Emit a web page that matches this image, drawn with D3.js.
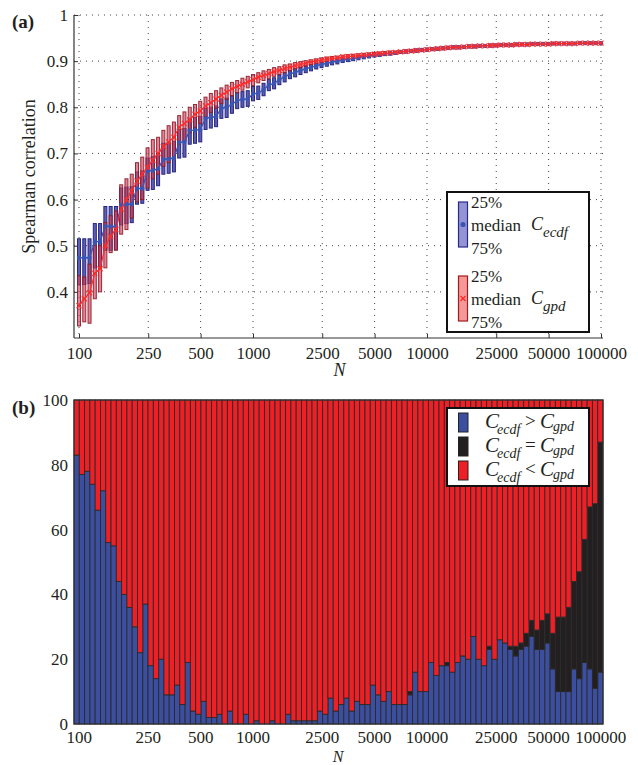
<!DOCTYPE html>
<html>
<head>
<meta charset="utf-8">
<script src="https://cdn.jsdelivr.net/npm/d3@7"></script>
<style>
    body { margin: 0; background: #fff; }
    svg text { font-family: "Liberation Serif", "Times New Roman", Times, serif; fill: #231f20; }
</style>
</head>
<body>
<div id="chart"></div>
<script>
// x tick labels (N), shared by both panels
let nTicks = [100, 250, 500, 1000, 2500, 5000, 10000, 25000, 50000, 100000];
let yTicksA = [0.4, 0.5, 0.6, 0.7, 0.8, 0.9, 1];
let yTicksB = [0, 20, 40, 60, 80, 100];

// (a) Spearman correlation quantiles, one entry per sample size (100 sizes, log spaced 100..100000)
let ecdfQ25 = [
    0.416, 0.416, 0.418, 0.452, 0.455, 0.490, 0.490, 0.492, 0.545, 0.548,
    0.550, 0.590, 0.592, 0.620, 0.622, 0.630, 0.655, 0.657, 0.660, 0.690,
    0.692, 0.720, 0.722, 0.725, 0.752, 0.755, 0.758, 0.776, 0.778, 0.787,
    0.797, 0.800, 0.802, 0.814, 0.817, 0.825, 0.836, 0.840, 0.849, 0.855,
    0.862, 0.866, 0.871, 0.875, 0.879, 0.883, 0.886, 0.889, 0.892, 0.894,
    0.897, 0.899, 0.901, 0.903, 0.905, 0.907, 0.909, 0.910, 0.912, 0.913,
    0.915, 0.917, 0.918, 0.919, 0.920, 0.921, 0.922, 0.923, 0.924, 0.925,
    0.926, 0.927, 0.927, 0.928, 0.929, 0.929, 0.930, 0.931, 0.931, 0.932,
    0.932, 0.933, 0.933, 0.934, 0.934, 0.934, 0.935, 0.935, 0.935, 0.935,
    0.936, 0.936, 0.936, 0.936, 0.937, 0.937, 0.937, 0.937, 0.937, 0.937
];
let ecdfMed = [
    0.474, 0.474, 0.474, 0.508, 0.510, 0.542, 0.542, 0.542, 0.588, 0.590,
    0.590, 0.624, 0.624, 0.662, 0.663, 0.667, 0.687, 0.688, 0.690, 0.724,
    0.725, 0.750, 0.750, 0.752, 0.776, 0.778, 0.780, 0.798, 0.800, 0.806,
    0.815, 0.817, 0.818, 0.829, 0.831, 0.838, 0.848, 0.852, 0.860, 0.866,
    0.872, 0.876, 0.880, 0.883, 0.887, 0.890, 0.893, 0.895, 0.898, 0.900,
    0.902, 0.904, 0.906, 0.908, 0.910, 0.911, 0.913, 0.914, 0.916, 0.917,
    0.918, 0.920, 0.921, 0.922, 0.923, 0.924, 0.925, 0.926, 0.927, 0.928,
    0.929, 0.930, 0.930, 0.931, 0.932, 0.932, 0.933, 0.933, 0.934, 0.934,
    0.935, 0.935, 0.935, 0.936, 0.936, 0.936, 0.937, 0.937, 0.937, 0.937,
    0.938, 0.938, 0.938, 0.938, 0.938, 0.939, 0.939, 0.939, 0.939, 0.939
];
let ecdfQ75 = [
    0.515, 0.515, 0.515, 0.548, 0.548, 0.585, 0.585, 0.585, 0.625, 0.627,
    0.628, 0.660, 0.662, 0.690, 0.693, 0.700, 0.722, 0.724, 0.726, 0.752,
    0.754, 0.776, 0.778, 0.780, 0.798, 0.800, 0.803, 0.818, 0.820, 0.825,
    0.832, 0.834, 0.836, 0.845, 0.846, 0.852, 0.860, 0.864, 0.870, 0.875,
    0.880, 0.884, 0.887, 0.890, 0.893, 0.896, 0.899, 0.900, 0.903, 0.905,
    0.907, 0.909, 0.911, 0.912, 0.914, 0.915, 0.917, 0.918, 0.919, 0.920,
    0.921, 0.923, 0.924, 0.925, 0.926, 0.927, 0.928, 0.929, 0.929, 0.930,
    0.931, 0.932, 0.932, 0.933, 0.934, 0.934, 0.935, 0.935, 0.936, 0.936,
    0.937, 0.937, 0.937, 0.938, 0.938, 0.938, 0.939, 0.939, 0.939, 0.939,
    0.940, 0.940, 0.940, 0.940, 0.940, 0.941, 0.941, 0.941, 0.941, 0.941
];
let gpdQ25 = [
    0.326, 0.335, 0.332, 0.385, 0.400, 0.452, 0.485, 0.490, 0.525, 0.535,
    0.560, 0.595, 0.600, 0.625, 0.645, 0.655, 0.672, 0.680, 0.693, 0.720,
    0.727, 0.745, 0.757, 0.765, 0.780, 0.789, 0.798, 0.808, 0.817, 0.825,
    0.831, 0.837, 0.842, 0.847, 0.853, 0.858, 0.862, 0.867, 0.871, 0.875,
    0.879, 0.883, 0.886, 0.889, 0.892, 0.894, 0.897, 0.899, 0.901, 0.903,
    0.905, 0.906, 0.908, 0.909, 0.910, 0.911, 0.912, 0.913, 0.914, 0.915,
    0.916, 0.917, 0.918, 0.919, 0.920, 0.921, 0.922, 0.923, 0.924, 0.925,
    0.926, 0.927, 0.927, 0.928, 0.929, 0.929, 0.930, 0.931, 0.931, 0.932,
    0.932, 0.933, 0.933, 0.934, 0.934, 0.934, 0.935, 0.935, 0.935, 0.935,
    0.936, 0.936, 0.936, 0.936, 0.937, 0.937, 0.937, 0.937, 0.937, 0.937
];
let gpdMed = [
    0.370, 0.385, 0.398, 0.440, 0.450, 0.500, 0.520, 0.535, 0.580, 0.600,
    0.618, 0.640, 0.655, 0.670, 0.685, 0.700, 0.715, 0.725, 0.735, 0.757,
    0.765, 0.773, 0.785, 0.792, 0.803, 0.810, 0.818, 0.826, 0.833, 0.840,
    0.845, 0.850, 0.855, 0.860, 0.865, 0.869, 0.873, 0.877, 0.880, 0.884,
    0.887, 0.890, 0.893, 0.895, 0.898, 0.900, 0.902, 0.904, 0.906, 0.907,
    0.909, 0.910, 0.911, 0.912, 0.913, 0.914, 0.915, 0.916, 0.917, 0.918,
    0.919, 0.920, 0.921, 0.922, 0.923, 0.924, 0.925, 0.926, 0.927, 0.928,
    0.929, 0.930, 0.930, 0.931, 0.932, 0.932, 0.933, 0.933, 0.934, 0.934,
    0.935, 0.935, 0.935, 0.936, 0.936, 0.936, 0.937, 0.937, 0.937, 0.937,
    0.938, 0.938, 0.938, 0.938, 0.938, 0.939, 0.939, 0.939, 0.939, 0.939
];
let gpdQ75 = [
    0.435, 0.432, 0.460, 0.500, 0.500, 0.550, 0.565, 0.575, 0.632, 0.645,
    0.655, 0.680, 0.692, 0.712, 0.730, 0.735, 0.750, 0.760, 0.768, 0.782,
    0.790, 0.800, 0.806, 0.813, 0.822, 0.830, 0.836, 0.842, 0.848, 0.854,
    0.858, 0.863, 0.867, 0.871, 0.875, 0.879, 0.882, 0.886, 0.888, 0.892,
    0.894, 0.897, 0.899, 0.901, 0.903, 0.905, 0.907, 0.909, 0.910, 0.911,
    0.913, 0.914, 0.915, 0.916, 0.917, 0.918, 0.919, 0.920, 0.921, 0.922,
    0.922, 0.923, 0.924, 0.925, 0.926, 0.927, 0.928, 0.929, 0.930, 0.931,
    0.932, 0.933, 0.933, 0.934, 0.935, 0.935, 0.936, 0.936, 0.937, 0.937,
    0.938, 0.938, 0.938, 0.939, 0.939, 0.939, 0.940, 0.940, 0.940, 0.940,
    0.941, 0.941, 0.941, 0.941, 0.941, 0.941, 0.941, 0.941, 0.941, 0.941
];

// (b) share of runs (%) where C_ecdf > C_gpd and C_ecdf = C_gpd; the rest is C_ecdf < C_gpd
let ecdfBetter = [
    83, 77, 78, 74, 66, 72, 56, 55, 44, 40,
    36, 30, 22, 37, 18, 14, 20, 9, 9, 12,
    6, 19, 4, 3, 7, 2, 2, 3, 0, 4,
    0, 0, 3, 0, 1, 0, 0, 1, 0, 0,
    3, 1, 1, 1, 1, 1, 4, 3, 8, 4,
    6, 8, 4, 7, 6, 6, 12, 9, 7, 10,
    6, 6, 6, 9, 16, 10, 10, 19, 15, 18,
    18, 16, 19, 21, 20, 27, 20, 18, 23, 20,
    26, 25, 23, 21, 23, 24, 27, 23, 23, 25,
    17, 10, 10, 10, 17, 14, 19, 17, 11, 16
];
let tieShare = [
    0, 0, 0, 0, 0, 0, 0, 0, 0, 0,
    0, 0, 0, 0, 0, 0, 0, 0, 0, 0,
    0, 0, 0, 0, 0, 0, 0, 0, 0, 0,
    0, 0, 0, 0, 0, 0, 0, 0, 0, 0,
    0, 0, 0, 0, 0, 0, 0, 0, 0, 0,
    0, 0, 0, 0, 0, 0, 0, 0, 0, 0,
    0, 0, 0, 1, 0, 0, 0, 0, 0, 0,
    1, 0, 0, 0, 0, 0, 0, 0, 1, 0,
    0, 0, 1, 3, 2, 4, 5, 6, 9, 9,
    11, 23, 23, 26, 27, 33, 38, 50, 57, 71
];

let blue = '#3b4ea0', black = '#231f20', red = '#ee1f25';
let serif = '"Liberation Serif", "Times New Roman", Times, serif';

let svg = d3.select('#chart').append('svg')
    .attr('width', 638)
    .attr('height', 765)
    .attr('font-family', serif);

let idx = d3.range(ecdfMed.length);

/* ---------- panel (a) ---------- */
let pa = {left: 74, right: 603, top: 15, bottom: 338};
let xA = d3.scaleLinear().domain([0, idx.length - 1]).range([79, 601]);
let xTickA = d3.scaleLog().domain([100, 100000]).range([79, 601]);
let yA = d3.scaleLinear().domain([0.3, 1]).range([pa.bottom, pa.top]);

let ga = svg.append('g');

//点线网格
ga.append('g').selectAll('line').data(nTicks).enter().append('line')
    .attr('x1', d => xTickA(d)).attr('x2', d => xTickA(d))
    .attr('y1', pa.top).attr('y2', pa.bottom)
    .attr('stroke', '#444').attr('stroke-width', 1).attr('stroke-dasharray', '1,5');
ga.append('g').selectAll('line').data(yTicksA).enter().append('line')
    .attr('x1', pa.left).attr('x2', pa.right)
    .attr('y1', d => yA(d)).attr('y2', d => yA(d))
    .attr('stroke', '#444').attr('stroke-width', 1).attr('stroke-dasharray', '1,5');

let axA = ga.append('g')
    .attr('transform', 'translate(0,' + pa.bottom + ')')
    .call(d3.axisBottom(xTickA).tickValues(nTicks).tickFormat(d3.format('d'))
        .tickSizeInner(-4).tickSizeOuter(0).tickPadding(9));
let ayA = ga.append('g')
    .attr('transform', 'translate(' + pa.left + ',0)')
    .call(d3.axisLeft(yA).tickValues(yTicksA).tickFormat(d => d === 1 ? '1' : d.toFixed(1))
        .tickSizeInner(-4).tickSizeOuter(0).tickPadding(6));
[axA, ayA].forEach(g => {
    g.attr('font-family', serif);
    g.select('.domain').remove();
    g.selectAll('text').attr('font-size', 17);
    g.selectAll('.tick line').attr('stroke', '#333');
});
ga.append('line').attr('x1', pa.left).attr('x2', pa.right).attr('y1', pa.bottom).attr('y2', pa.bottom)
    .attr('stroke', '#333').attr('stroke-width', 1.2);
ga.append('line').attr('x1', pa.left).attr('x2', pa.left).attr('y1', pa.top).attr('y2', pa.bottom)
    .attr('stroke', '#333').attr('stroke-width', 1.2);

let boxW = 3;
// 四分位箱体
ga.append('g').selectAll('rect').data(idx).enter().append('rect')
    .attr('x', i => xA(i) - boxW / 2)
    .attr('y', i => yA(ecdfQ75[i]))
    .attr('width', boxW)
    .attr('height', i => Math.max(1, yA(ecdfQ25[i]) - yA(ecdfQ75[i])))
    .attr('fill', '#5e5eb4').attr('stroke', '#25257e').attr('stroke-width', 1);
ga.append('g').selectAll('rect').data(idx).enter().append('rect')
    .attr('x', i => xA(i) - boxW / 2)
    .attr('y', i => yA(gpdQ75[i]))
    .attr('width', boxW)
    .attr('height', i => Math.max(1, yA(gpdQ25[i]) - yA(gpdQ75[i])))
    .attr('fill', '#d04468').attr('fill-opacity', 0.65)
    .attr('stroke', '#8e1a22').attr('stroke-opacity', 0.9).attr('stroke-width', 1);

// 中位数连线
let lineE = d3.line().x(i => xA(i)).y(i => yA(ecdfMed[i]));
let lineG = d3.line().x(i => xA(i)).y(i => yA(gpdMed[i]));
ga.append('path').datum(idx).attr('d', lineE)
    .attr('fill', 'none').attr('stroke', '#3a55b4').attr('stroke-width', 1.4);
ga.append('g').selectAll('circle').data(idx).enter().append('circle')
    .attr('cx', i => xA(i)).attr('cy', i => yA(ecdfMed[i])).attr('r', 2.2)
    .attr('fill', '#3a55b4');
ga.append('path').datum(idx).attr('d', lineG)
    .attr('fill', 'none').attr('stroke', '#ff2a2a').attr('stroke-width', 1.2);
ga.append('g').selectAll('path').data(idx).enter().append('path')
    .attr('d', 'M-2.5,-2.5L2.5,2.5M-2.5,2.5L2.5,-2.5')
    .attr('transform', i => 'translate(' + xA(i) + ',' + yA(gpdMed[i]) + ')')
    .attr('stroke', '#ff2a2a').attr('stroke-width', 1.2);

ga.append('text').attr('x', 12).attr('y', 28).attr('font-size', 19).attr('font-weight', 'bold').text('(a)');
ga.append('text').attr('transform', 'translate(35,' + ((pa.top + pa.bottom) / 2) + ') rotate(-90)')
    .attr('text-anchor', 'middle').attr('font-size', 18).text('Spearman correlation');
ga.append('text').attr('x', (pa.left + pa.right) / 2 + 1).attr('y', 376).attr('text-anchor', 'middle')
    .attr('font-size', 18).attr('font-style', 'italic').text('N');

// 图例 (a)
let la = ga.append('g');
la.append('rect').attr('x', 447).attr('y', 192).attr('width', 142).attr('height', 140)
    .attr('fill', '#fff').attr('stroke', '#111').attr('stroke-width', 2);
[
    {y: 202, fill: '#9494d4', stroke: '#2a2a8a', sub: 'ecdf', mark: 'dot'},
    {y: 276, fill: '#f49898', stroke: '#a31c1c', sub: 'gpd', mark: 'x'}
].forEach(function (d) {
    la.append('rect').attr('x', 458.5).attr('y', d.y).attr('width', 9).attr('height', 45)
        .attr('fill', d.fill).attr('stroke', d.stroke).attr('stroke-width', 1.2);
    if (d.mark === 'dot') {
        la.append('circle').attr('cx', 463).attr('cy', d.y + 22.5).attr('r', 2.6).attr('fill', '#3a55b4');
    } else {
        la.append('path').attr('d', 'M-2.5,-2.5L2.5,2.5M-2.5,2.5L2.5,-2.5')
            .attr('transform', 'translate(463,' + (d.y + 22.5) + ')')
            .attr('stroke', '#ff2a2a').attr('stroke-width', 1.4);
    }
    la.append('text').attr('x', 471).attr('y', d.y + 6).attr('font-size', 17).text('25%');
    la.append('text').attr('x', 471).attr('y', d.y + 29).attr('font-size', 17).text('median');
    la.append('text').attr('x', 471).attr('y', d.y + 52).attr('font-size', 17).text('75%');
    la.append('text').attr('x', 531).attr('y', d.y + 28).attr('font-size', 18).attr('font-style', 'italic').text('C');
    la.append('text').attr('x', 543).attr('y', d.y + 35).attr('font-size', 15).attr('font-style', 'italic').text(d.sub);
});

/* ---------- panel (b) ---------- */
let pb = {left: 74, right: 603, top: 400, bottom: 724};
let rows = idx.map(i => ({
    i: i,
    more: ecdfBetter[i],
    equal: tieShare[i],
    less: 100 - ecdfBetter[i] - tieShare[i]
}));
let stack = d3.stack().keys(['more', 'equal', 'less'])(rows);
let xB = d3.scaleBand().domain(idx).range([pb.left, pb.right]).padding(0);
let bw = xB.bandwidth();
let xTickB = d3.scaleLog().domain([100, 100000]).range([xB(0) + bw / 2 + 2, xB(idx.length - 1) + bw / 2]);
let yB = d3.scaleLinear().domain([0, 100]).range([pb.bottom, pb.top]);
let colorB = {more: blue, equal: black, less: red};

let gb = svg.append('g');
gb.selectAll('g.layer').data(stack).enter().append('g')
    .attr('class', 'layer')
    .attr('fill', d => colorB[d.key])
    .selectAll('rect').data(d => d).enter().append('rect')
    .attr('x', d => xB(d.data.i))
    .attr('y', d => yB(d[1]))
    .attr('width', bw)
    .attr('height', d => yB(d[0]) - yB(d[1]))
    .attr('stroke', '#2a2a2a').attr('stroke-width', 0.9);

gb.append('rect').attr('x', pb.left).attr('y', pb.top)
    .attr('width', pb.right - pb.left).attr('height', pb.bottom - pb.top)
    .attr('fill', 'none').attr('stroke', '#333').attr('stroke-width', 1.2);

let axB = gb.append('g')
    .attr('transform', 'translate(0,' + pb.bottom + ')')
    .call(d3.axisBottom(xTickB).tickValues(nTicks).tickFormat(d3.format('d'))
        .tickSize(0).tickPadding(7));
let ayB = gb.append('g')
    .attr('transform', 'translate(' + pb.left + ',0)')
    .call(d3.axisLeft(yB).tickValues(yTicksB).tickSize(0).tickPadding(6));
[axB, ayB].forEach(g => {
    g.attr('font-family', serif);
    g.select('.domain').remove();
    g.selectAll('text').attr('font-size', 17);
});

gb.append('text').attr('x', 12).attr('y', 414).attr('font-size', 19).attr('font-weight', 'bold').text('(b)');
gb.append('text').attr('x', 338).attr('y', 762).attr('text-anchor', 'middle')
    .attr('font-size', 16).attr('font-style', 'italic').text('N');

// 图例 (b)
let lb = gb.append('g');
lb.append('rect').attr('x', 447).attr('y', 408).attr('width', 142).attr('height', 78)
    .attr('fill', '#fff').attr('stroke', '#111').attr('stroke-width', 2);
[
    {key: 'more', op: '>', y: 428},
    {key: 'equal', op: '=', y: 452},
    {key: 'less', op: '<', y: 476}
].forEach(function (d) {
    lb.append('rect').attr('x', 458.5).attr('y', d.y - 15).attr('width', 9.5).attr('height', 19)
        .attr('fill', colorB[d.key]).attr('stroke', '#222').attr('stroke-width', 1);
    lb.append('text').attr('x', 485).attr('y', d.y).attr('font-size', 21).attr('font-style', 'italic').text('C');
    lb.append('text').attr('x', 497).attr('y', d.y + 6).attr('font-size', 14).attr('font-style', 'italic').text('ecdf');
    lb.append('text').attr('x', 525).attr('y', d.y - 1).attr('font-size', 19).text(d.op);
    lb.append('text').attr('x', 540).attr('y', d.y).attr('font-size', 21).attr('font-style', 'italic').text('C');
    lb.append('text').attr('x', 553).attr('y', d.y + 3).attr('font-size', 14).attr('font-style', 'italic').text('gpd');
});
</script>
</body>
</html>
